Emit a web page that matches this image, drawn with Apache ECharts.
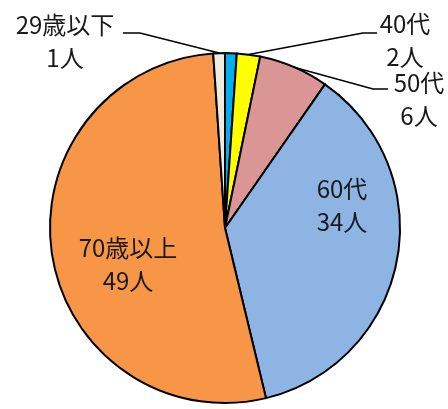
<!DOCTYPE html>
<html>
<head>
<meta charset="utf-8">
<script src="https://cdn.jsdelivr.net/npm/echarts@6/dist/echarts.min.js"></script>
<style>html,body{margin:0;padding:0;background:#fff}#c{width:448px;height:409px}</style>
</head>
<body>
<div id="c"></div>
<script>
// Data (clockwise from 12 o'clock)
const categories = ['30代', '40代', '50代', '60代', '70歳以上', '29歳以下'];
const values = [1, 2, 6, 34, 49, 1];
const sliceColors = ['#00B0F0', '#FFFF00', '#DA9694', '#8DB4E2', '#F79646', '#EEECE1'];
const hiddenLabels = ['30代'];
const insideLabels = ['60代', '70歳以上'];

// Layout config for labels (label centre, and leader bend/end points)
const labelLayoutCfg = {
  '29歳以下': { x: 65, y: 41, bend: [140, 33], end: [123, 33] },
  '40代':    { x: 405, y: 40, bend: [363, 33], end: [377, 33] },
  '50代':    { x: 419, y: 99, bend: [373, 89], end: [388, 89] },
  '60代':    { x: 342, y: 205 },
  '70歳以上': { x: 128, y: 264 }
};

const chart = echarts.init(document.getElementById('c'), null, { renderer: 'canvas' });
const data = categories.map((name, i) => {
  const d = { name, value: values[i], itemStyle: { color: sliceColors[i] } };
  if (hiddenLabels.includes(name)) {
    d.label = { show: false };
    d.labelLine = { show: false };
  } else if (insideLabels.includes(name)) {
    d.label = { position: 'inside' };
    d.labelLine = { show: false };
  }
  return d;
});

chart.setOption({
  animation: false,
  backgroundColor: '#fff',
  series: [{
    type: 'pie',
    center: [225, 228],
    radius: 175,
    startAngle: 90,
    clockwise: true,
    avoidLabelOverlap: false,
    data,
    itemStyle: { borderColor: '#000', borderWidth: 2 },
    label: {
      show: true,
      position: 'outside',
      formatter: '{b}\n{c}人',
      fontFamily: '"Noto Sans CJK JP", sans-serif',
      fontSize: 24,
      lineHeight: 33,
      color: '#1a1a1a',
      align: 'center'
    },
    labelLine: {
      show: true,
      length: 20,
      length2: 15,
      lineStyle: { color: '#000', width: 1.5 }
    },
    emphasis: { disabled: true },
    labelLayout: function (params) {
      const name = categories[params.dataIndex];
      const cfg = labelLayoutCfg[name];
      if (!cfg) return {};
      const out = { x: cfg.x, y: cfg.y, align: 'center', verticalAlign: 'middle' };
      if (cfg.bend && params.labelLinePoints) {
        out.labelLinePoints = [params.labelLinePoints[0], cfg.bend, cfg.end];
      }
      return out;
    }
  }]
});
</script>
</body>
</html>
